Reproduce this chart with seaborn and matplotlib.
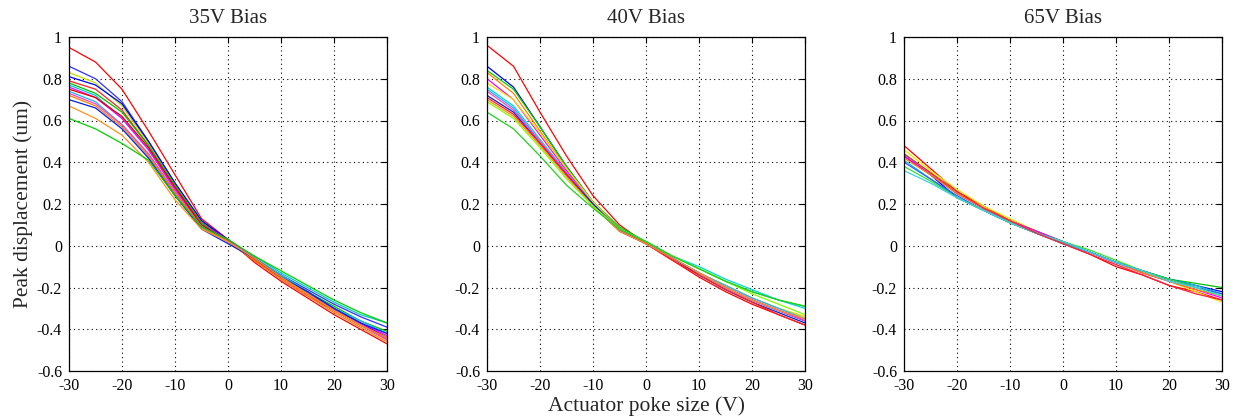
import matplotlib
matplotlib.use('Agg')
import matplotlib.pyplot as plt
import seaborn as sns
import pandas as pd
from matplotlib.ticker import FuncFormatter

# actuator poke size (V), sampled every 5 V
poke = [-30, -25, -20, -15, -10, -5, 0, 5, 10, 15, 20, 25, 30]

titles = ['35V Bias', '40V Bias', '65V Bias']

# peak displacement (um), one row per actuator
bias35 = [
    [0.95, 0.88, 0.75, 0.55, 0.34, 0.13, 0.03, -0.08, -0.17, -0.25, -0.33, -0.40, -0.47],
    [0.86, 0.80, 0.69, 0.50, 0.30, 0.12, 0.02, -0.06, -0.14, -0.21, -0.28, -0.34, -0.39],
    [0.83, 0.78, 0.67, 0.49, 0.29, 0.11, 0.02, -0.07, -0.15, -0.23, -0.30, -0.37, -0.43],
    [0.81, 0.77, 0.68, 0.50, 0.30, 0.12, 0.03, -0.06, -0.15, -0.22, -0.30, -0.37, -0.44],
    [0.79, 0.75, 0.65, 0.48, 0.28, 0.11, 0.02, -0.07, -0.16, -0.24, -0.31, -0.38, -0.45],
    [0.78, 0.73, 0.64, 0.48, 0.29, 0.11, 0.02, -0.06, -0.14, -0.22, -0.29, -0.36, -0.41],
    [0.77, 0.72, 0.61, 0.46, 0.27, 0.10, 0.02, -0.05, -0.13, -0.20, -0.27, -0.33, -0.37],
    [0.76, 0.71, 0.61, 0.46, 0.27, 0.10, 0.03, -0.06, -0.15, -0.23, -0.30, -0.37, -0.43],
    [0.75, 0.71, 0.62, 0.47, 0.28, 0.10, 0.02, -0.07, -0.15, -0.23, -0.31, -0.38, -0.44],
    [0.74, 0.69, 0.58, 0.44, 0.25, 0.09, 0.02, -0.06, -0.14, -0.22, -0.30, -0.36, -0.42],
    [0.73, 0.68, 0.58, 0.44, 0.26, 0.09, 0.02, -0.06, -0.15, -0.23, -0.31, -0.38, -0.45],
    [0.72, 0.67, 0.57, 0.43, 0.25, 0.09, 0.02, -0.07, -0.16, -0.24, -0.32, -0.39, -0.46],
    [0.70, 0.66, 0.56, 0.42, 0.24, 0.08, 0.01, -0.06, -0.15, -0.22, -0.30, -0.37, -0.42],
    [0.67, 0.61, 0.53, 0.40, 0.22, 0.08, 0.02, -0.06, -0.15, -0.23, -0.31, -0.38, -0.44],
    [0.61, 0.56, 0.49, 0.41, 0.24, 0.09, 0.03, -0.05, -0.12, -0.19, -0.26, -0.32, -0.37],
]

bias40 = [
    [0.96, 0.86, 0.64, 0.43, 0.24, 0.10, 0.01, -0.07, -0.15, -0.22, -0.28, -0.33, -0.38],
    [0.86, 0.76, 0.57, 0.38, 0.21, 0.08, 0.01, -0.06, -0.13, -0.20, -0.26, -0.31, -0.36],
    [0.84, 0.75, 0.57, 0.38, 0.21, 0.09, 0.02, -0.05, -0.11, -0.17, -0.22, -0.26, -0.29],
    [0.83, 0.73, 0.55, 0.37, 0.20, 0.08, 0.01, -0.06, -0.13, -0.19, -0.25, -0.30, -0.34],
    [0.80, 0.70, 0.53, 0.36, 0.20, 0.08, 0.01, -0.06, -0.13, -0.20, -0.26, -0.31, -0.35],
    [0.78, 0.70, 0.54, 0.37, 0.21, 0.08, 0.01, -0.06, -0.13, -0.19, -0.25, -0.30, -0.34],
    [0.76, 0.67, 0.51, 0.35, 0.20, 0.08, 0.02, -0.05, -0.10, -0.16, -0.21, -0.26, -0.30],
    [0.75, 0.66, 0.50, 0.34, 0.19, 0.08, 0.01, -0.06, -0.13, -0.19, -0.25, -0.30, -0.35],
    [0.74, 0.65, 0.50, 0.35, 0.20, 0.08, 0.01, -0.06, -0.13, -0.20, -0.26, -0.31, -0.36],
    [0.72, 0.64, 0.49, 0.34, 0.20, 0.07, 0.01, -0.06, -0.14, -0.21, -0.27, -0.32, -0.37],
    [0.71, 0.63, 0.49, 0.34, 0.19, 0.07, 0.01, -0.07, -0.14, -0.21, -0.27, -0.33, -0.38],
    [0.70, 0.62, 0.48, 0.33, 0.19, 0.07, 0.01, -0.06, -0.13, -0.20, -0.26, -0.31, -0.35],
    [0.69, 0.61, 0.47, 0.32, 0.19, 0.08, 0.02, -0.05, -0.11, -0.17, -0.23, -0.28, -0.33],
    [0.64, 0.56, 0.43, 0.29, 0.18, 0.08, 0.02, -0.05, -0.11, -0.17, -0.22, -0.26, -0.29],
]

bias65 = [
    [0.48, 0.37, 0.26, 0.19, 0.12, 0.07, 0.01, -0.04, -0.10, -0.14, -0.19, -0.22, -0.26],
    [0.46, 0.36, 0.27, 0.19, 0.13, 0.07, 0.02, -0.03, -0.08, -0.13, -0.17, -0.22, -0.27],
    [0.44, 0.35, 0.25, 0.18, 0.12, 0.07, 0.02, -0.03, -0.08, -0.12, -0.16, -0.18, -0.20],
    [0.43, 0.34, 0.23, 0.17, 0.11, 0.06, 0.01, -0.03, -0.08, -0.12, -0.16, -0.19, -0.22],
    [0.43, 0.34, 0.25, 0.18, 0.12, 0.07, 0.02, -0.03, -0.08, -0.13, -0.17, -0.21, -0.25],
    [0.42, 0.34, 0.25, 0.18, 0.12, 0.06, 0.01, -0.03, -0.08, -0.13, -0.17, -0.21, -0.24],
    [0.41, 0.32, 0.23, 0.17, 0.11, 0.06, 0.01, -0.03, -0.08, -0.12, -0.16, -0.19, -0.23],
    [0.40, 0.32, 0.24, 0.17, 0.11, 0.06, 0.02, -0.03, -0.08, -0.12, -0.16, -0.20, -0.23],
    [0.38, 0.31, 0.23, 0.17, 0.11, 0.06, 0.02, -0.02, -0.07, -0.12, -0.16, -0.20, -0.24],
    [0.36, 0.30, 0.23, 0.17, 0.11, 0.06, 0.02, -0.03, -0.08, -0.12, -0.17, -0.20, -0.24],
    [0.44, 0.35, 0.26, 0.18, 0.12, 0.06, 0.01, -0.04, -0.09, -0.14, -0.19, -0.23, -0.26],
]

colors35 = ['#ff0000', '#3030ff', '#c0e000', '#0000ff', '#ff2020', '#00c000', '#00c8c8',
            '#ff00ff', '#e00000', '#20b0ff', '#ff40c0', '#ff8000', '#0020e0', '#ff9020', '#00d000']
colors40 = ['#ff0000', '#0000ff', '#00d000', '#ff8000', '#ff00ff', '#e8e800', '#00d8d8',
            '#20b0ff', '#ff40c0', '#0020e0', '#ff2020', '#ff9020', '#80ff00', '#20d020']
colors65 = ['#ff0000', '#e8e800', '#00c000', '#0000ff', '#ff00ff', '#ff8000', '#00c8c8',
            '#3060ff', '#30e030', '#40d0e0', '#ff2040']

panels = [bias35, bias40, bias65]
palettes = [colors35, colors40, colors65]

sns.set_style('white')
plt.rcParams['font.family'] = ['Liberation Serif', 'DejaVu Serif']

fig = plt.figure(figsize=(12.36, 4.17), dpi=100)
lefts = [69, 487, 904]

for i in range(3):
    ax = fig.add_axes([lefts[i] / 1236, 46 / 417, 318 / 1236, 334 / 417])
    rows = []
    for j, curve in enumerate(panels[i]):
        for x, y in zip(poke, curve):
            rows.append({'poke': x, 'disp': y, 'curve': 'c%d' % j})
    df = pd.DataFrame(rows)
    sns.lineplot(data=df, x='poke', y='disp', hue='curve', palette=palettes[i],
                 estimator=None, sort=False, legend=False, linewidth=0.9, ax=ax)

    ax.set_xlim(-30, 30)
    ax.set_ylim(-0.6, 1)
    ax.set_xticks(range(-30, 31, 10))
    ax.set_yticks([-0.6, -0.4, -0.2, 0, 0.2, 0.4, 0.6, 0.8, 1])
    ax.xaxis.set_major_formatter(FuncFormatter(lambda v, p: '%g' % round(v, 2)))
    ax.yaxis.set_major_formatter(FuncFormatter(lambda v, p: '%g' % round(v, 2)))
    ax.grid(True, color='black', linestyle=(0, (1, 3)), linewidth=0.8)
    ax.tick_params(direction='in', top=True, right=True, length=4, width=0.8,
                   labelsize=11.5, colors='black', pad=5)
    for s in ax.spines.values():
        s.set_color('black')
        s.set_linewidth(0.9)
    ax.set_title(titles[i], fontsize=15, pad=10)
    ax.set_xlabel('')
    ax.set_ylabel('')
    if i == 0:
        ax.set_ylabel('Peak displacement (um)', fontsize=15.5, labelpad=3)
    if i == 1:
        ax.set_xlabel('Actuator poke size (V)', fontsize=15.5, labelpad=2)

fig.savefig('out.png', dpi=100)
